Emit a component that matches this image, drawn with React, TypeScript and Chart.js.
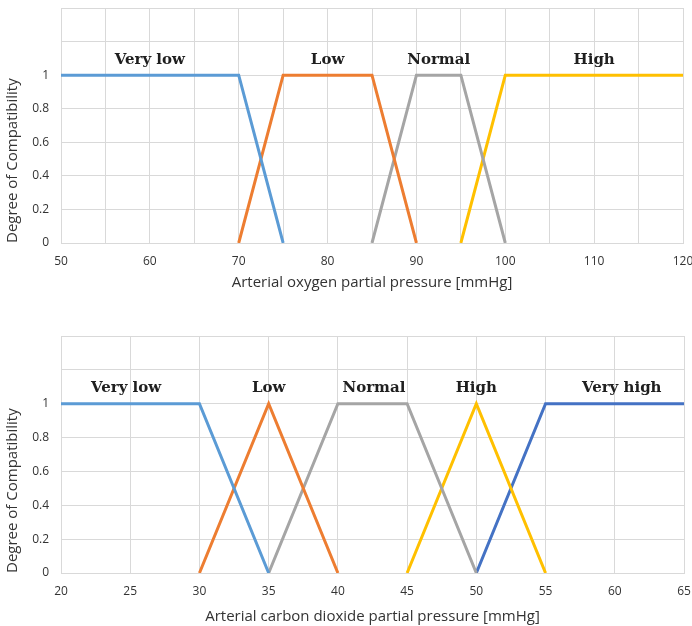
import React, { useEffect, useRef } from "react";
import { Chart, registerables } from "chart.js";

Chart.register(...registerables);

// ---------- Data: arterial oxygen partial pressure ----------
const o2VeryLowX = [50, 70, 75];
const o2VeryLowY = [1, 1, 0];
const o2LowX = [70, 75, 85, 90];
const o2LowY = [0, 1, 1, 0];
const o2NormalX = [85, 90, 95, 100];
const o2NormalY = [0, 1, 1, 0];
const o2HighX = [95, 100, 120];
const o2HighY = [0, 1, 1];
const o2LabelTexts = ["Very low", "Low", "Normal", "High"];
const o2LabelX = [60, 80, 92.5, 110];
const o2LabelY = [1.09, 1.09, 1.09, 1.09];

// ---------- Data: arterial carbon dioxide partial pressure ----------
const co2VeryLowX = [20, 30, 35];
const co2VeryLowY = [1, 1, 0];
const co2LowX = [30, 35, 40];
const co2LowY = [0, 1, 0];
const co2NormalX = [35, 40, 45, 50];
const co2NormalY = [0, 1, 1, 0];
const co2HighX = [45, 50, 55];
const co2HighY = [0, 1, 0];
const co2VeryHighX = [50, 55, 65];
const co2VeryHighY = [0, 1, 1];
const co2LabelTexts = ["Very low", "Low", "Normal", "High", "Very high"];
const co2LabelX = [24.7, 35, 42.6, 50, 60.5];
const co2LabelY = [1.09, 1.09, 1.09, 1.09, 1.09];

const BLUE = "#5B9BD5";
const ORANGE = "#ED7D31";
const GRAY = "#A5A5A5";
const YELLOW = "#FFC000";
const DARKBLUE = "#4472C4";

const GRID = "#d9d9d9";
const TEXT = "#333333";
const TITLE_FONT = { family: "'Open Sans'", size: 15 };
const TICK_FONT = { family: "'Open Sans'", size: 12 };

function pts(xs: number[], ys: number[]) {
  return xs.map((x, i) => ({ x, y: ys[i] }));
}

function ds(xs: number[], ys: number[], color: string) {
  return {
    data: pts(xs, ys),
    borderColor: color,
    backgroundColor: color,
    borderWidth: 3,
    pointRadius: 0,
    tension: 0,
    fill: false,
  };
}

function labelPlugin(texts: string[], xs: number[], ys: number[]) {
  return {
    id: "fuzzyLabels",
    afterDatasetsDraw(chart: any) {
      const ctx = chart.ctx;
      const sx = chart.scales.x;
      const sy = chart.scales.y;
      ctx.save();
      ctx.font = "bold 15px 'DejaVu Serif'";
      ctx.fillStyle = "#1f1f1f";
      ctx.textAlign = "center";
      ctx.textBaseline = "middle";
      texts.forEach((t, i) => {
        ctx.fillText(t, sx.getPixelForValue(xs[i]), sy.getPixelForValue(ys[i]));
      });
      ctx.restore();
    },
  };
}

function zeroPad(scale: any) {
  scale.paddingLeft = 0;
  scale.paddingRight = 0;
  scale.paddingTop = 0;
  scale.paddingBottom = 0;
}

function makeConfig(opts: {
  datasets: any[];
  xMin: number;
  xMax: number;
  xLabelEvery: number;
  xTitle: string;
  padding: any;
  xHeight: number;
  xTitlePadBottom: number;
  plugin: any;
}) {
  return {
    type: "line" as const,
    data: { datasets: opts.datasets },
    plugins: [opts.plugin],
    options: {
      animation: false,
      responsive: false,
      maintainAspectRatio: false,
      layout: { padding: opts.padding },
      plugins: { legend: { display: false }, tooltip: { enabled: false } },
      scales: {
        x: {
          type: "linear",
          min: opts.xMin,
          max: opts.xMax,
          ticks: {
            stepSize: 5,
            autoSkip: false,
            maxRotation: 0,
            padding: 11,
            color: TEXT,
            font: TICK_FONT,
            callback: (v: any) => {
              const n = Number(v);
              return Math.abs(n % opts.xLabelEvery) < 1e-6 ? String(n) : "";
            },
          },
          grid: { color: GRID, lineWidth: 1, drawTicks: false },
          border: { display: true, color: GRID },
          title: {
            display: true,
            text: opts.xTitle,
            color: TEXT,
            font: TITLE_FONT,
            padding: { top: 0, bottom: opts.xTitlePadBottom },
          },
          afterFit: (scale: any) => {
            scale.height = opts.xHeight;
            zeroPad(scale);
          },
        },
        y: {
          type: "linear",
          min: 0,
          max: 1.4,
          ticks: {
            stepSize: 0.2,
            padding: 12,
            color: TEXT,
            font: TICK_FONT,
            callback: (v: any) => {
              const n = Number(v);
              return n <= 1.0001 ? String(Math.round(n * 10) / 10) : "";
            },
          },
          grid: { color: GRID, lineWidth: 1, drawTicks: false },
          border: { display: true, color: GRID },
          title: {
            display: true,
            text: "Degree of Compatibility",
            color: TEXT,
            font: TITLE_FONT,
            align: "start",
            padding: { top: 4, bottom: 0 },
          },
          afterFit: (scale: any) => {
            scale.width = 61;
            zeroPad(scale);
          },
        },
      },
    },
  };
}

export default function App() {
  const topRef = useRef<HTMLCanvasElement>(null);
  const botRef = useRef<HTMLCanvasElement>(null);

  useEffect(() => {
    const top = new Chart(
      topRef.current as HTMLCanvasElement,
      makeConfig({
        datasets: [
          ds(o2VeryLowX, o2VeryLowY, BLUE),
          ds(o2LowX, o2LowY, ORANGE),
          ds(o2NormalX, o2NormalY, GRAY),
          ds(o2HighX, o2HighY, YELLOW),
        ],
        xMin: 50,
        xMax: 120,
        xLabelEvery: 10,
        xTitle: "Arterial oxygen partial pressure [mmHg]",
        padding: { left: 0, right: 9, top: 8, bottom: 0 },
        xHeight: 57,
        xTitlePadBottom: 8,
        plugin: labelPlugin(o2LabelTexts, o2LabelX, o2LabelY),
      }) as any
    );
    const bot = new Chart(
      botRef.current as HTMLCanvasElement,
      makeConfig({
        datasets: [
          ds(co2VeryLowX, co2VeryLowY, BLUE),
          ds(co2LowX, co2LowY, ORANGE),
          ds(co2NormalX, co2NormalY, GRAY),
          ds(co2HighX, co2HighY, YELLOW),
          ds(co2VeryHighX, co2VeryHighY, DARKBLUE),
        ],
        xMin: 20,
        xMax: 65,
        xLabelEvery: 5,
        xTitle: "Arterial carbon dioxide partial pressure [mmHg]",
        padding: { left: 0, right: 8, top: 36, bottom: 0 },
        xHeight: 53,
        xTitlePadBottom: 0,
        plugin: labelPlugin(co2LabelTexts, co2LabelX, co2LabelY),
      }) as any
    );
    return () => {
      top.destroy();
      bot.destroy();
    };
  }, []);

  return (
    <div
      style={{
        position: "absolute",
        left: 0,
        top: 0,
        width: 692,
        height: 626,
        background: "#fff",
      }}
    >
      <canvas
        ref={topRef}
        width={692}
        height={300}
        style={{ position: "absolute", left: 0, top: 0, width: 692, height: 300 }}
      />
      <canvas
        ref={botRef}
        width={692}
        height={326}
        style={{ position: "absolute", left: 0, top: 300, width: 692, height: 326 }}
      />
    </div>
  );
}
